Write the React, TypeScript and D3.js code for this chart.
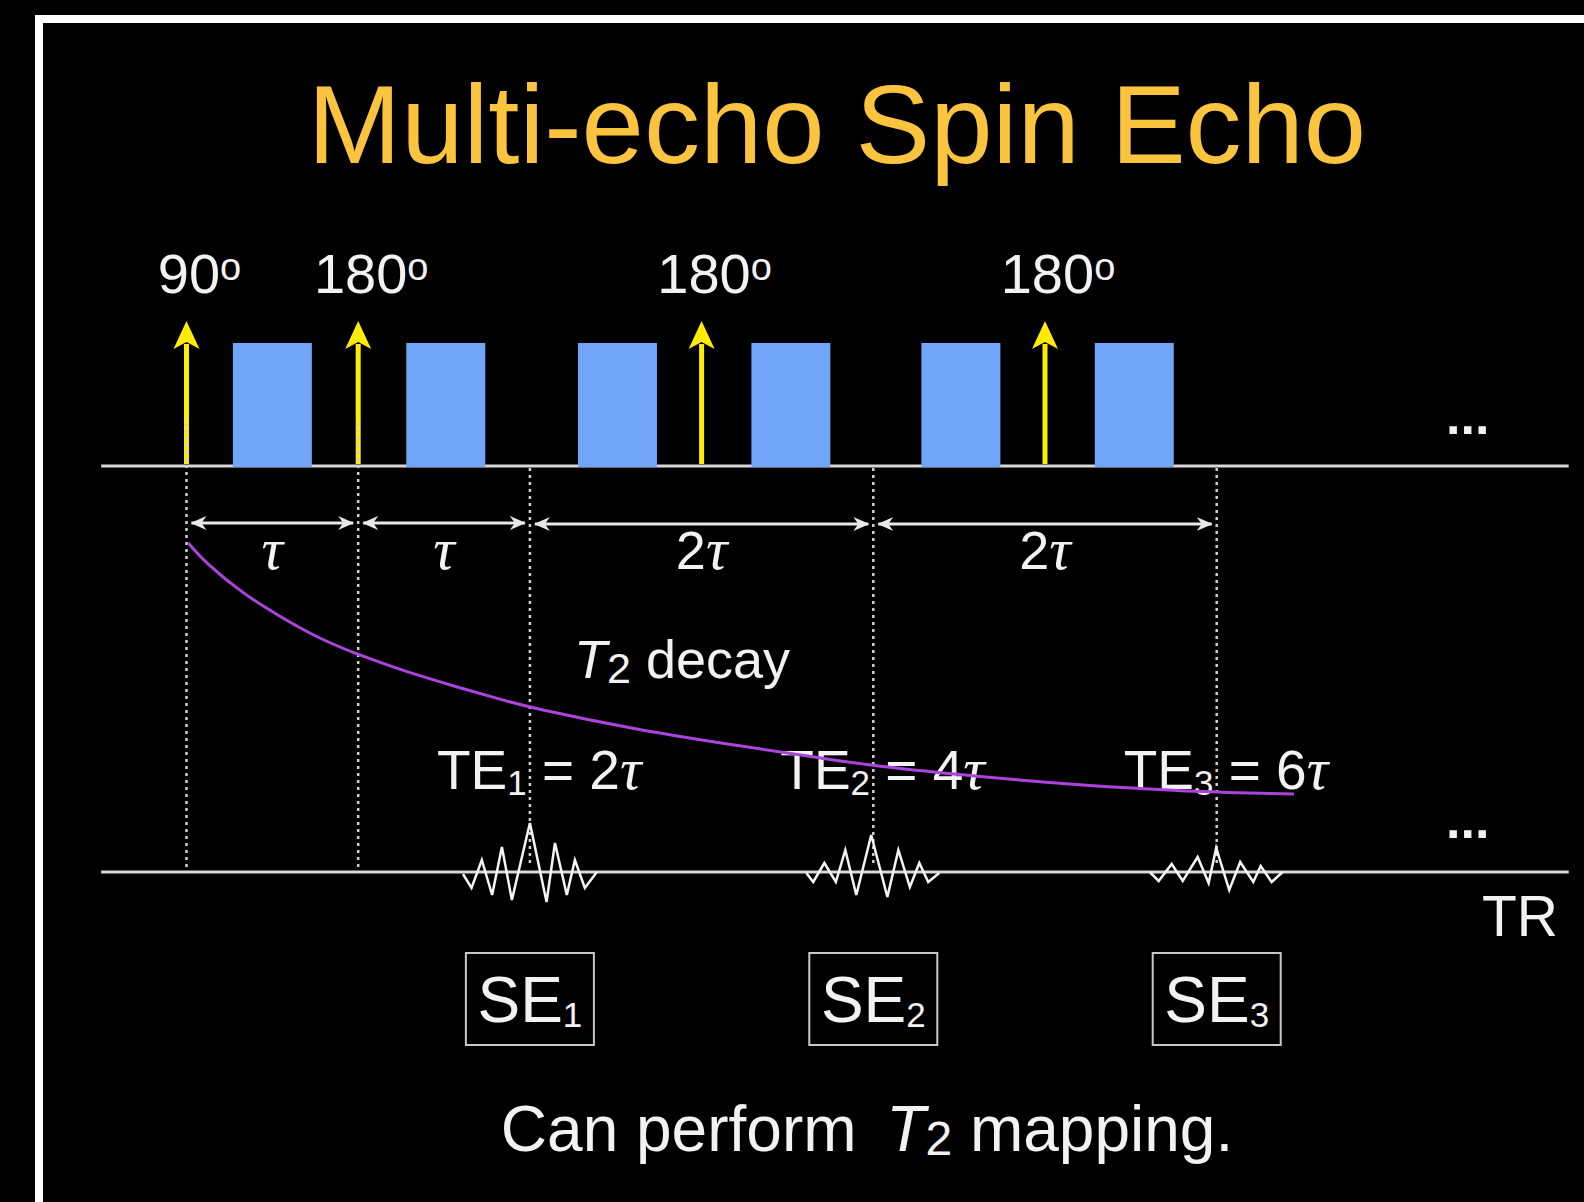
import React from 'react';
import * as d3 from 'd3';

// ---------- data ----------
const titleText = 'Multi-echo Spin Echo';
const pulseTimes = [0, 1, 3, 5];
const pulseAngles = [90, 180, 180, 180];
const blockStarts = [0.27, 1.28, 2.28, 3.29, 4.28, 5.29];
const blockEnds = [0.73, 1.74, 2.74, 3.75, 4.74, 5.75];
const intervalStarts = [0, 1, 2, 4];
const intervalEnds = [1, 2, 4, 6];
const intervalFactors = ['', '', '2', '2'];
const echoTimes = [2, 4, 6];
const echoNumbers = [1, 2, 3];
const teFactors = [2, 4, 6];
const dottedTimes = [0, 1, 2, 4, 6];

const decayT = [0.01, 0.1, 0.33, 0.55, 0.75, 1.0, 1.26, 1.59, 1.84, 2.0, 2.62, 3.3, 3.69, 4.0, 4.64, 5.18, 5.61, 6.0, 6.45];
const decayV = [1.0, 0.945, 0.845, 0.775, 0.715, 0.66, 0.612, 0.56, 0.523, 0.5, 0.432, 0.377, 0.347, 0.322, 0.289, 0.265, 0.252, 0.242, 0.237];

const echo1Offsets = [-0.39, -0.34, -0.28, -0.22, -0.163, -0.105, 0, 0.097, 0.146, 0.215, 0.262, 0.32, 0.39];
const echo1Amps = [-0.04, -0.32, 0.24, -0.46, 0.5, -0.56, 0.98, -0.6, 0.58, -0.46, 0.24, -0.32, 0];
const echo2Offsets = [-0.39, -0.35, -0.285, -0.218, -0.163, -0.099, -0.012, 0.082, 0.146, 0.213, 0.268, 0.32, 0.384];
const echo2Amps = [-0.02, -0.2, 0.18, -0.2, 0.44, -0.46, 0.74, -0.5, 0.44, -0.3, 0.18, -0.2, -0.02];
const echo3Offsets = [-0.39, -0.338, -0.262, -0.198, -0.111, -0.047, -0.003, 0.073, 0.137, 0.213, 0.256, 0.32, 0.384];
const echo3Amps = [0, -0.18, 0.16, -0.18, 0.3, -0.22, 0.48, -0.36, 0.2, -0.2, 0.12, -0.2, 0];

// ---------- layout ----------
const W = 1584;
const H = 1202;
const SANS = 'Liberation Sans, Arial, sans-serif';
const SERIF = 'Liberation Serif, Times New Roman, serif';
const TXT = '#f2f2f2';
const RF_Y = 466;
const SIG_Y = 872;

export default function App() {
  const x = d3.scaleLinear().domain([0, 6]).range([186.5, 1216.7]);
  const yDecay = d3.scaleLinear().domain([0, 1]).range([SIG_Y, 543]);
  const yEcho = d3.scaleLinear().domain([-1, 1]).range([SIG_Y + 50, SIG_Y - 50]);

  const decayLine = d3
    .line<number>()
    .x((_, i) => x(decayT[i]))
    .y((d) => yDecay(d))
    .curve(d3.curveBasis);

  const echoes = [
    { offs: echo1Offsets, amps: echo1Amps },
    { offs: echo2Offsets, amps: echo2Amps },
    { offs: echo3Offsets, amps: echo3Amps },
  ];

  const echoPath = (k: number) => {
    const e = echoes[k];
    const gen = d3
      .line<number>()
      .x((_, i) => x(echoTimes[k] + e.offs[i]))
      .y((d) => yEcho(d));
    return gen(e.amps) || '';
  };

  const arrowHead = (cx: number) =>
    `M${cx},321 L${cx + 13},349 L${cx},342 L${cx - 13},349 Z`;

  return (
    <svg
      width={W}
      height={H}
      style={{ position: 'absolute', left: 0, top: 0, display: 'block' }}
    >
      <defs>
        <marker id="dimHead" viewBox="0 0 16 16" refX="15" refY="8" markerWidth="16" markerHeight="16" markerUnits="userSpaceOnUse" orient="auto-start-reverse">
          <path d="M0,1 L16,8 L0,15 L5,8 Z" fill="#e8e8e8" />
        </marker>
      </defs>
      <rect x={0} y={0} width={W} height={H} fill="#000" />
      {/* slide frame */}
      <rect x={39} y={19} width={W + 100} height={H + 100} fill="none" stroke="#fff" strokeWidth={8} />

      {/* title */}
      <text x={837} y={163} textAnchor="middle" fontFamily={SANS} fontSize={112} fill="#FBC43F">
        {titleText}
      </text>

      {/* RF baseline */}
      <line x1={x(-0.497)} x2={x(8.05)} y1={RF_Y} y2={RF_Y} stroke="#d8d8d8" strokeWidth={3} />

      {/* blue blocks */}
      {blockStarts.map((s, i) => (
        <rect key={'b' + i} x={x(s)} y={343} width={x(blockEnds[i]) - x(s)} height={RF_Y + 1 - 343} fill="#70A5FA" />
      ))}

      {/* yellow RF pulses */}
      {pulseTimes.map((t, i) => (
        <g key={'p' + i}>
          <line x1={x(t)} x2={x(t)} y1={344} y2={RF_Y - 2} stroke="#FFEC00" strokeWidth={5} />
          <path d={arrowHead(x(t))} fill="#FFEC00" />
          <text x={x(t) + 13} y={293} textAnchor="middle" fontFamily={SANS} fontSize={56} fill={TXT}>
            <tspan>{pulseAngles[i]}</tspan>
            <tspan fontSize={38} dy={-13}>o</tspan>
          </text>
        </g>
      ))}

      {/* dotted guides */}
      {dottedTimes.map((t, i) => (
        <line
          key={'d' + i}
          x1={x(t)}
          x2={x(t)}
          y1={t < 2 ? 423 : RF_Y + 2}
          y2={t < 2 ? 867 : 864}
          stroke="#d0d0d0"
          strokeWidth={2.5}
          strokeDasharray="3,4"
        />
      ))}

      {/* interval dimension arrows */}
      {intervalStarts.map((s, i) => {
        const e = intervalEnds[i];
        const x1 = x(s) + 5;
        const x2 = x(e) - 5;
        const cx = (x(s) + x(e)) / 2;
        const yy = i < 2 ? 523 : 524;
        return (
          <g key={'iv' + i}>
            <line x1={x1} x2={x2} y1={yy} y2={yy} stroke="#e8e8e8" strokeWidth={3} markerStart="url(#dimHead)" markerEnd="url(#dimHead)" />
            <text x={cx} y={569} textAnchor="middle" fill={TXT}>
              {intervalFactors[i] ? (
                <tspan fontFamily={SANS} fontSize={54}>{intervalFactors[i]}</tspan>
              ) : null}
              <tspan fontFamily={SERIF} fontStyle="italic" fontSize={60}>τ</tspan>
            </text>
          </g>
        );
      })}

      {/* T2 decay label */}
      <text x={574} y={678} fontFamily={SANS} fontSize={54} fill={TXT} style={{ whiteSpace: 'pre' }}>
        <tspan fontStyle="italic">T</tspan>
        <tspan fontSize={43} dy={5}>2</tspan>
        <tspan dy={-5}> decay</tspan>
      </text>

      {/* TE labels */}
      {echoTimes.map((t, i) => (
        <text key={'te' + i} x={x(t) - 93} y={789} fontFamily={SANS} fontSize={55} fill={TXT} style={{ whiteSpace: 'pre' }}>
          <tspan>TE</tspan>
          <tspan fontSize={35} dy={6}>{echoNumbers[i]}</tspan>
          <tspan dy={-6}>{' = ' + teFactors[i]}</tspan>
          <tspan fontFamily={SERIF} fontStyle="italic" fontSize={60}>τ</tspan>
        </text>
      ))}

      {/* decay curve */}
      <path d={decayLine(decayV) || ''} fill="none" stroke="#AA44DD" strokeWidth={3} />

      {/* signal baseline */}
      <line x1={x(-0.497)} x2={x(8.05)} y1={SIG_Y} y2={SIG_Y} stroke="#d8d8d8" strokeWidth={3} />

      {/* echoes */}
      {echoTimes.map((_, k) => (
        <path key={'e' + k} d={echoPath(k)} fill="none" stroke="#f4f4f4" strokeWidth={2.5} strokeLinejoin="miter" />
      ))}

      {/* continuation marks */}
      <text x={1446} y={434} fontFamily={SANS} fontWeight="bold" fontSize={52} fill={TXT}>...</text>
      <text x={1446} y={838} fontFamily={SANS} fontWeight="bold" fontSize={52} fill={TXT}>...</text>
      <text x={1482} y={936} fontFamily={SANS} fontSize={57} fill={TXT}>TR</text>

      {/* SE boxes */}
      {echoTimes.map((t, i) => (
        <g key={'se' + i}>
          <rect x={x(t) - 64} y={953} width={128} height={92} fill="none" stroke="#c8c8c8" strokeWidth={2} />
          <text x={x(t)} y={1022} textAnchor="middle" fontFamily={SANS} fontSize={64} fill={TXT}>
            <tspan>SE</tspan>
            <tspan fontSize={35} dy={5}>{echoNumbers[i]}</tspan>
          </text>
        </g>
      ))}

      {/* caption */}
      <text x={867} y={1151} textAnchor="middle" fontFamily={SANS} fontSize={64} fill={TXT} style={{ whiteSpace: 'pre' }}>
        <tspan>Can perform </tspan>
        <tspan fontStyle="italic" dx={12}>T</tspan>
        <tspan fontSize={48} dy={4}>2</tspan>
        <tspan dy={-4}> mapping.</tspan>
      </text>
    </svg>
  );
}
